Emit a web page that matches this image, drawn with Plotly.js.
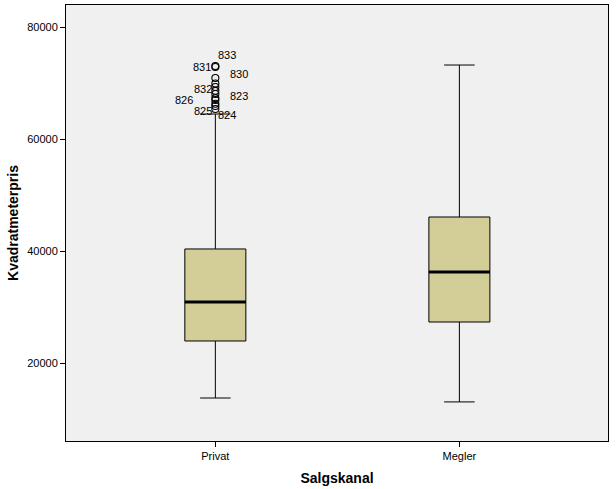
<!DOCTYPE html>
<html>
<head>
<meta charset="utf-8">
<script src="https://cdn.plot.ly/plotly-3.0.1.min.js"></script>
<style>html,body{margin:0;padding:0;background:#fff;}#chart{width:616px;height:489px;}</style>
</head>
<body>
<div id="chart"></div>
<script>
// Data
var categories = ["Privat", "Megler"];
var lowerWhisker = [13750, 13050];
var q1 = [23930, 27320];
var medians = [30890, 36250];
var q3 = [40360, 46070];
var upperWhisker = [64460, 73210];

// Outliers (Privat group)
var outlierValues = [73040, 72860, 70890, 69900, 69290, 68600, 68040, 67300, 66960, 66300, 65890, 65360];
var outlierLabels = ["833", "831", "830", "", "832", "", "823", "", "826", "", "825", "824"];
// label offsets in pixels (styling only)
var labelDx = [12, -13, 24, 0, -12, 0, 24, 0, -31, 0, -12, 12];
var labelDy = [11, 0, 4, 0, -2, 0, -2, 0, 0, 0, -5, -6];

var xIdx = categories.map(function(c, i){ return i; });
var boxWidth = 0.25;
var font = "Liberation Sans, Arial, sans-serif";

var traces = [];
traces.push({
  type: "box",
  x: xIdx,
  q1: q1, median: medians, q3: q3,
  lowerfence: lowerWhisker, upperfence: upperWhisker,
  width: boxWidth,
  whiskerwidth: 0.5,
  fillcolor: "#D3CE98",
  line: {color: "#000", width: 1},
  boxpoints: false,
  hoverinfo: "skip",
  showlegend: false
});
// thick median lines
xIdx.forEach(function(i){
  traces.push({
    type: "scatter", mode: "lines",
    x: [i - boxWidth/2, i + boxWidth/2],
    y: [medians[i], medians[i]],
    line: {color: "#000", width: 3},
    hoverinfo: "skip", showlegend: false
  });
});
// outliers
traces.push({
  type: "scatter", mode: "markers",
  x: outlierValues.map(function(){ return 0; }),
  y: outlierValues,
  marker: {symbol: "circle-open", size: 7, color: "#000", line: {width: 1.1, color: "#000"}},
  hoverinfo: "skip", showlegend: false
});

var annotations = [];
outlierValues.forEach(function(v, k){
  if (!outlierLabels[k]) return;
  annotations.push({
    x: 0, y: v, xref: "x", yref: "y",
    text: outlierLabels[k], showarrow: false,
    xshift: labelDx[k], yshift: labelDy[k],
    font: {family: font, size: 11, color: "#000"}
  });
});

var layout = {
  width: 616, height: 489,
  margin: {l: 66, r: 8, t: 5, b: 48},
  paper_bgcolor: "#fff",
  plot_bgcolor: "#F0F0F0",
  font: {family: font, size: 11, color: "#000"},
  showlegend: false,
  xaxis: {
    range: [-0.612, 1.609],
    tickvals: xIdx, ticktext: categories,
    ticks: "outside", ticklen: 5, tickcolor: "#000",
    showgrid: false, zeroline: false,
    showline: true, linecolor: "#000", linewidth: 1, mirror: true,
    tickfont: {family: font, size: 11, color: "#000"},
    title: {text: "Salgskanal", font: {family: font, size: 14, color: "#000", weight: "bold"}, standoff: 11}
  },
  yaxis: {
    range: [6071, 83929],
    tickvals: [20000, 40000, 60000, 80000],
    tickformat: "d",
    ticks: "outside", ticklen: 5, tickcolor: "#000",
    showgrid: false, zeroline: false,
    showline: true, linecolor: "#000", linewidth: 1, mirror: true,
    tickfont: {family: font, size: 11, color: "#000"},
    title: {text: "Kvadratmeterpris", font: {family: font, size: 14, color: "#000", weight: "bold"}, standoff: 5}
  },
  annotations: annotations
};

Plotly.newPlot("chart", traces, layout, {staticPlot: true, displayModeBar: false});
</script>
</body>
</html>
